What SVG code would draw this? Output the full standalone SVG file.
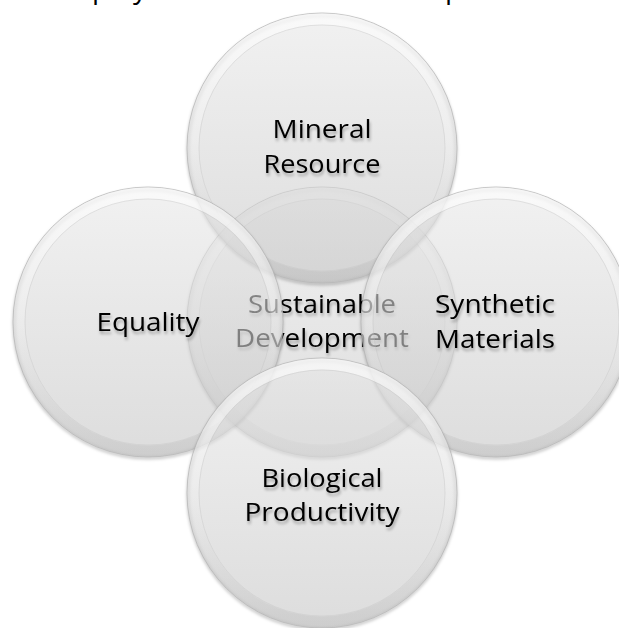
<svg xmlns="http://www.w3.org/2000/svg" width="619" height="628" viewBox="0 0 619 628">
  <style>
    .disc { fill: url(#discFill); fill-opacity: 0.6; stroke: #b4b4b4; stroke-opacity: 0.7; stroke-width: 1; }
    .bevel { fill: none; stroke: url(#bevelGrad); stroke-width: 11; }
    .inner { fill: none; stroke: #c0c0c0; stroke-opacity: 0.35; stroke-width: 1; }
    .shade { fill: none; stroke: #000; stroke-opacity: 0.22; stroke-width: 3; filter: url(#blur2); }
    .lbl { font-family: "Open Sans", "Noto Sans", "Liberation Sans", sans-serif; font-size: 26px; fill: #000; text-anchor: middle; filter: url(#txtShadow); }
    .frag { font-family: "Open Sans", "Noto Sans", "Liberation Sans", sans-serif; font-size: 28px; fill: #000; }
  </style>
  <defs>
    <linearGradient id="discFill" x1="0" y1="0" x2="0" y2="1">
      <stop offset="0" stop-color="#e8e8e8"/>
      <stop offset="1" stop-color="#c6c6c6"/>
    </linearGradient>
    <linearGradient id="bevelGrad" x1="0" y1="0" x2="0" y2="1">
      <stop offset="0" stop-color="#ffffff" stop-opacity="0.6"/>
      <stop offset="0.5" stop-color="#ffffff" stop-opacity="0.18"/>
      <stop offset="1" stop-color="#9a9a9a" stop-opacity="0.22"/>
    </linearGradient>
    <filter id="blur2" x="-10%" y="-10%" width="120%" height="120%">
      <feGaussianBlur stdDeviation="1.6"/>
      <feOffset dx="0" dy="2"/>
    </filter>
    <filter id="txtShadow" x="-20%" y="-30%" width="140%" height="170%">
      <feGaussianBlur in="SourceAlpha" stdDeviation="1.8"/>
      <feOffset dx="1" dy="3" result="b"/>
      <feComponentTransfer in="b" result="s">
        <feFuncA type="linear" slope="0.3"/>
      </feComponentTransfer>
      <feMerge>
        <feMergeNode in="s"/>
        <feMergeNode in="SourceGraphic"/>
      </feMerge>
    </filter>
  </defs>

  <rect x="0" y="0" width="619" height="628" fill="#ffffff"/>

  <text class="frag" y="-2"><tspan x="92">p</tspan><tspan x="133">y</tspan><tspan x="445">p</tspan></text>

  <g id="connectors"/>

  <g id="node-center">
    <circle class="shade" cx="322" cy="322" r="134"/>
    <circle class="disc" cx="322" cy="322" r="135"/>
    <circle class="bevel" cx="322" cy="322" r="129"/>
    <circle class="inner" cx="322" cy="322" r="123"/>
    <text class="lbl"><tspan x="322" y="313" textLength="148" lengthAdjust="spacingAndGlyphs">Sustainable</tspan><tspan x="322" y="347" textLength="174" lengthAdjust="spacingAndGlyphs">Development</tspan></text>
  </g>

  <g id="node-mineral">
    <circle class="shade" cx="322" cy="148" r="134"/>
    <circle class="disc" cx="322" cy="148" r="135"/>
    <circle class="bevel" cx="322" cy="148" r="129"/>
    <circle class="inner" cx="322" cy="148" r="123"/>
    <text class="lbl"><tspan x="322" y="138" textLength="99" lengthAdjust="spacingAndGlyphs">Mineral</tspan><tspan x="322" y="173" textLength="117" lengthAdjust="spacingAndGlyphs">Resource</tspan></text>
  </g>

  <g id="node-equality">
    <circle class="shade" cx="148" cy="322" r="134"/>
    <circle class="disc" cx="148" cy="322" r="135"/>
    <circle class="bevel" cx="148" cy="322" r="129"/>
    <circle class="inner" cx="148" cy="322" r="123"/>
    <text class="lbl" x="148" y="331" textLength="103" lengthAdjust="spacingAndGlyphs">Equality</text>
  </g>

  <g id="node-synthetic">
    <circle class="shade" cx="496" cy="322" r="134"/>
    <circle class="disc" cx="496" cy="322" r="135"/>
    <circle class="bevel" cx="496" cy="322" r="129"/>
    <circle class="inner" cx="496" cy="322" r="123"/>
    <text class="lbl"><tspan x="495" y="313" textLength="120" lengthAdjust="spacingAndGlyphs">Synthetic</tspan><tspan x="495" y="348" textLength="120" lengthAdjust="spacingAndGlyphs">Materials</tspan></text>
  </g>

  <g id="node-biological">
    <circle class="shade" cx="322" cy="493" r="134"/>
    <circle class="disc" cx="322" cy="493" r="135"/>
    <circle class="bevel" cx="322" cy="493" r="129"/>
    <circle class="inner" cx="322" cy="493" r="123"/>
    <text class="lbl"><tspan x="322" y="487" textLength="121" lengthAdjust="spacingAndGlyphs">Biological</tspan><tspan x="322" y="521" textLength="155" lengthAdjust="spacingAndGlyphs">Productivity</tspan></text>
  </g>
</svg>
